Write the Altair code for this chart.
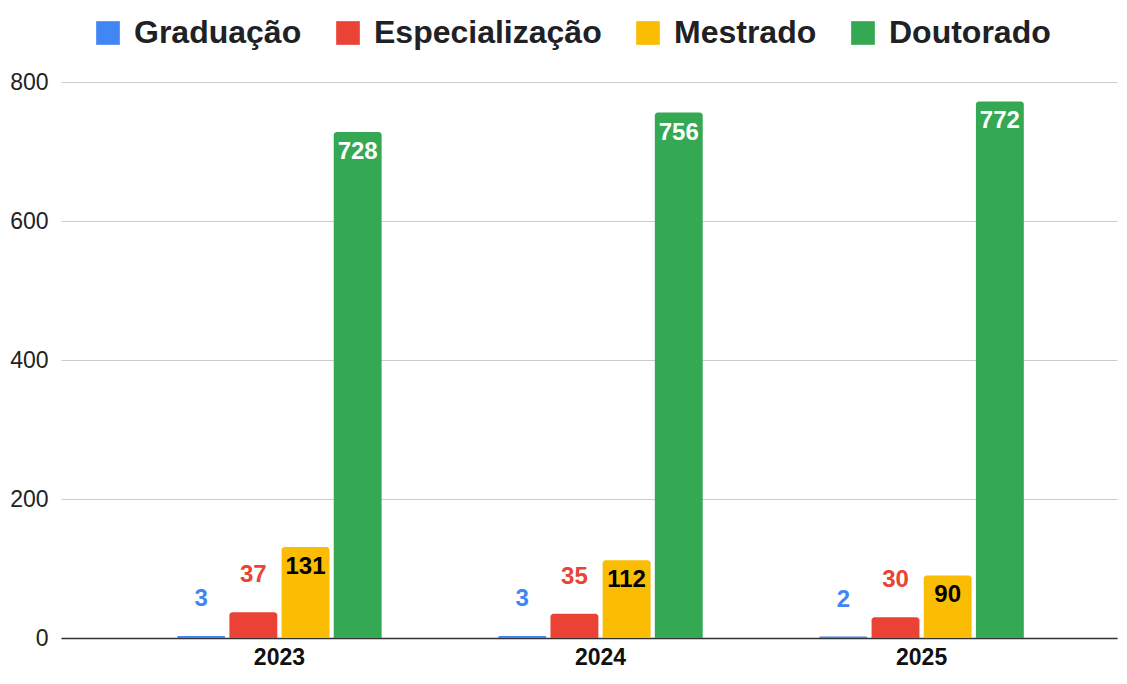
import altair as alt
import pandas as pd

years = ["2023", "2024", "2025"]
levels = ["Graduação", "Especialização", "Mestrado", "Doutorado"]
graduacao = [3, 3, 2]
especializacao = [37, 35, 30]
mestrado = [131, 112, 90]
doutorado = [728, 756, 772]
bar_colors = ["#4285F4", "#EA4335", "#FBBC04", "#34A853"]
label_colors = ["#4285F4", "#EA4335", "#000000", "#FFFFFF"]
outside_levels = ["Graduação", "Especialização"]
y_ticks = [0, 200, 400, 600, 800]

rows = []
for lvl, vals, lc in zip(levels, [graduacao, especializacao, mestrado, doutorado], label_colors):
    for yr, v in zip(years, vals):
        rows.append({"ano": yr, "nivel": lvl, "valor": v, "cor_rotulo": lc})
df = pd.DataFrame(rows)

FONT = "Liberation Sans"

x_enc = alt.X(
    "ano:N",
    sort=years,
    scale=alt.Scale(paddingInner=0.3634, paddingOuter=0.3261, align=0.555),
    axis=alt.Axis(
        title=None, labelAngle=0, ticks=False, grid=False,
        domain=True, domainColor="#333333", domainWidth=1.5,
        labelFont=FONT, labelFontWeight="bold", labelFontSize=23,
        labelColor="#111111", labelPadding=8,
    ),
)
xoff_enc = alt.XOffset("nivel:N", sort=levels,
                       scale=alt.Scale(paddingInner=0.082, paddingOuter=0))
y_enc = alt.Y(
    "valor:Q",
    stack=None,
    scale=alt.Scale(domain=[0, 800], nice=False),
    axis=alt.Axis(
        title=None, values=y_ticks, ticks=False, domain=False,
        grid=True, gridColor="#cccccc", gridWidth=1.2,
        labelFont=FONT, labelFontSize=23, labelColor="#222222", labelPadding=13,
    ),
)

bars = alt.Chart(df).mark_bar(cornerRadiusTopLeft=3, cornerRadiusTopRight=3).encode(
    x=x_enc,
    xOffset=xoff_enc,
    y=y_enc,
    color=alt.Color(
        "nivel:N",
        sort=levels,
        scale=alt.Scale(domain=levels, range=bar_colors),
        legend=alt.Legend(
            title=None, orient="none", legendX=31, legendY=-65,
            direction="horizontal", columns=4,
            symbolType="square", symbolSize=560, symbolStrokeWidth=0,
            labelFont=FONT, labelFontWeight="bold", labelFontSize=32,
            labelColor="#202124", labelOffset=10, columnPadding=30,
            padding=0, labelLimit=400,
        ),
    ),
)

labels_out = alt.Chart(df).transform_filter(
    alt.FieldOneOfPredicate(field="nivel", oneOf=outside_levels)
).mark_text(font=FONT, fontWeight="bold", fontSize=24, baseline="middle", dy=-37).encode(
    x=alt.X("ano:N", sort=years),
    xOffset=alt.XOffset("nivel:N", sort=levels),
    y=alt.Y("valor:Q", stack=None),
    text=alt.Text("valor:Q"),
    color=alt.Color("cor_rotulo:N", scale=None),
)

labels_in = alt.Chart(df).transform_filter(
    {"not": alt.FieldOneOfPredicate(field="nivel", oneOf=outside_levels)}
).mark_text(font=FONT, fontWeight="bold", fontSize=24, baseline="middle", dy=20).encode(
    x=alt.X("ano:N", sort=years),
    xOffset=alt.XOffset("nivel:N", sort=levels),
    y=alt.Y("valor:Q", stack=None),
    text=alt.Text("valor:Q"),
    color=alt.Color("cor_rotulo:N", scale=None),
)

chart = alt.layer(bars, labels_out, labels_in).properties(
    width=1056,
    height=556,
    autosize=alt.AutoSizeParams(type="none"),
    padding={"left": 53, "top": 74, "right": 2, "bottom": 32},
).configure(background="white").configure_view(stroke=None)

chart.save("out.html", embed_options={"renderer": "svg", "actions": False})
